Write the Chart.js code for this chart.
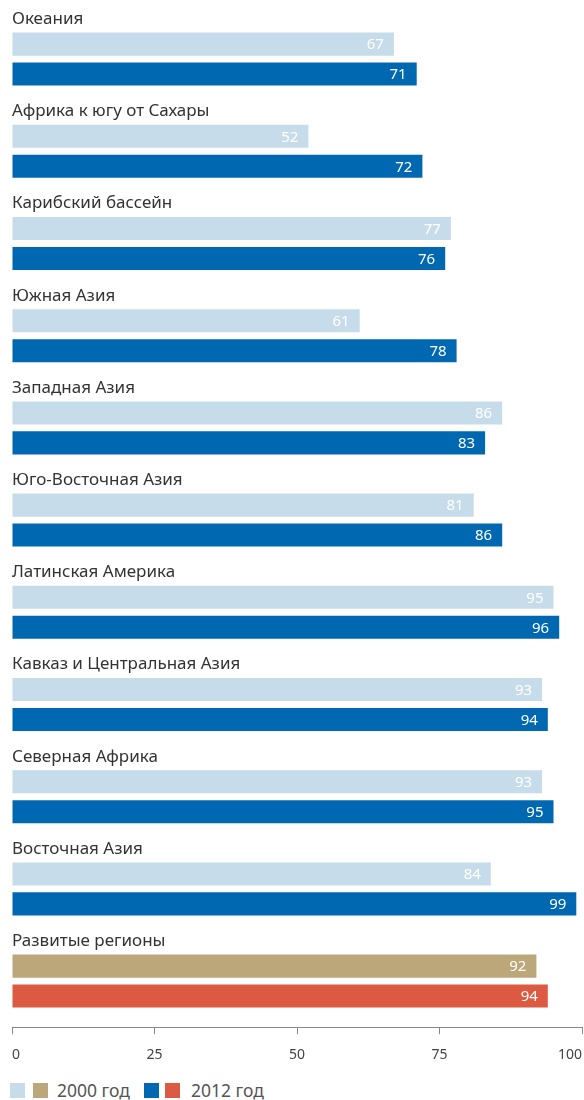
<!DOCTYPE html>
<html>
<head>
<meta charset="utf-8">
<script src="https://cdn.jsdelivr.net/npm/chart.js@4"></script>
<style>
  body { margin: 0; background: #fff; font-family: "Noto Sans", sans-serif; }
  #wrap { position: relative; width: 584px; height: 1100px; }
  #legend { position: absolute; left: 10px; top: 1078px; font-size: 17.5px; color: #555; display: flex; align-items: center; }
  .sw { display: inline-block; width: 15px; height: 15px; margin-right: 6px; }
  .txt { margin-left: 3px; margin-right: 14px; }
</style>
</head>
<body>
<div id="wrap">
  <canvas id="myChart" width="584" height="1075"></canvas>
  <div id="legend">
    <span class="sw" style="background:#c7dcea;margin-right:8px"></span>
    <span class="sw" style="background:#bca77b"></span>
    <span class="txt">2000 год</span>
    <span class="sw" style="background:#0068b0"></span>
    <span class="sw" style="background:#dc5a42"></span>
    <span class="txt" style="margin-left:5px">2012 год</span>
  </div>
</div>
<script>
const regions = [
  'Океания',
  'Африка к югу от Сахары',
  'Карибский бассейн',
  'Южная Азия',
  'Западная Азия',
  'Юго-Восточная Азия',
  'Латинская Америка',
  'Кавказ и Центральная Азия',
  'Северная Африка',
  'Восточная Азия',
  'Развитые регионы'
];
const values2000 = [67, 52, 77, 61, 86, 81, 95, 93, 93, 84, 92];
const values2012 = [71, 72, 76, 78, 83, 86, 96, 94, 95, 99, 94];
const xTicks = [0, 25, 50, 75, 100];

const light = '#c7dcea', dark = '#0068b0', tan = '#bca77b', red = '#dc5a42';
const colors2000 = regions.map((r, i) => i === regions.length - 1 ? tan : light);
const colors2012 = regions.map((r, i) => i === regions.length - 1 ? red : dark);

const chart = document.querySelector('#myChart');

// names above each pair of bars + numbers inside bar ends
const labelsPlugin = {
  id: 'labelsPlugin',
  afterDatasetsDraw(c) {
    const ctx = c.ctx;
    const y = c.scales.y;
    ctx.save();
    ctx.font = '17px "Noto Sans"';
    ctx.fillStyle = '#333';
    ctx.textAlign = 'left';
    ctx.textBaseline = 'middle';
    regions.forEach((name, i) => {
      ctx.fillText(name, c.chartArea.left, y.getPixelForValue(i) - 40);
    });
    ctx.font = '15px "Noto Sans"';
    ctx.fillStyle = '#fff';
    ctx.textAlign = 'right';
    c.data.datasets.forEach((ds, di) => {
      c.getDatasetMeta(di).data.forEach((bar, i) => {
        ctx.fillText(ds.data[i], bar.x - 10, bar.y + 1);
      });
    });
    ctx.restore();
  }
};

let myChart = new Chart(chart, {
  type: 'bar',
  data: {
    labels: regions,
    datasets: [{
      label: '2000 год',
      data: values2000,
      backgroundColor: colors2000,
      categoryPercentage: 0.65,
      barPercentage: 0.77
    }, {
      label: '2012 год',
      data: values2012,
      backgroundColor: colors2012,
      categoryPercentage: 0.65,
      barPercentage: 0.77
    }]
  },
  options: {
    indexAxis: 'y',
    responsive: false,
    animation: false,
    layout: { padding: { left: 12, right: 2, top: 13, bottom: 0 } },
    plugins: { legend: { display: false }, tooltip: { enabled: false } },
    scales: {
      y: { display: false },
      x: {
        min: 0,
        max: 100,
        afterBuildTicks: (axis) => { axis.ticks = xTicks.map(v => ({ value: v })); },
        afterFit: (axis) => { axis.paddingLeft = 0; axis.paddingRight = 0; },
        border: { display: true, color: '#888', width: 1 },
        grid: { drawOnChartArea: false, drawTicks: true, tickLength: 7, color: '#888' },
        ticks: {
          align: 'inner',
          padding: 12,
          color: '#444',
          font: { family: 'Noto Sans', size: 14 }
        }
      }
    }
  },
  plugins: [labelsPlugin]
});
</script>
</body>
</html>
